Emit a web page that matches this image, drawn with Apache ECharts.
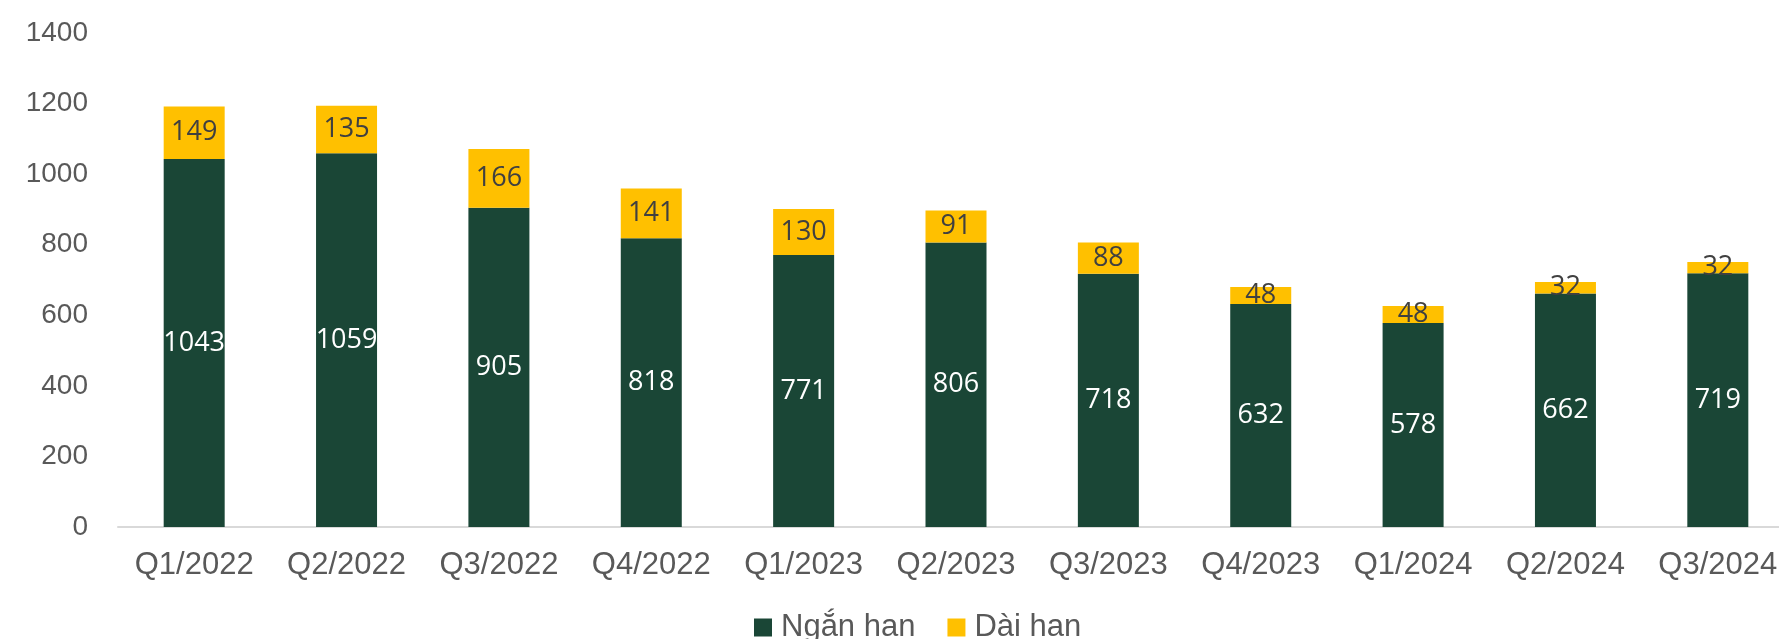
<!DOCTYPE html>
<html>
<head>
<meta charset="utf-8">
<script src="https://cdn.jsdelivr.net/npm/echarts@6/dist/echarts.min.js"></script>
<style>html,body{margin:0;padding:0;background:#fff;}#c{width:1779px;height:639px;}</style>
</head>
<body>
<div id="c"></div>
<script>
const categories = ['Q1/2022','Q2/2022','Q3/2022','Q4/2022','Q1/2023','Q2/2023','Q3/2023','Q4/2023','Q1/2024','Q2/2024','Q3/2024'];
const nganHan = [1043, 1059, 905, 818, 771, 806, 718, 632, 578, 662, 719];
const daiHan = [149, 135, 166, 141, 130, 91, 88, 48, 48, 32, 32];
const yTicks = [0, 200, 400, 600, 800, 1000, 1200, 1400];

const chart = echarts.init(document.getElementById('c'), null, {renderer: 'canvas'});
chart.setOption({
  animation: false,
  backgroundColor: '#ffffff',
  grid: {left: 118, width: 1676, top: 33, bottom: 112, containLabel: false, outerBoundsMode: 'none'},
  legend: {
    left: 749, top: 607,
    itemWidth: 18, itemHeight: 18, itemGap: 32,
    icon: 'rect',
    textStyle: {fontFamily: 'Liberation Sans', fontSize: 31, color: '#595959', padding: [0,0,0,4]},
    data: ['Ngắn han', 'Dài han']
  },
  xAxis: {
    type: 'category',
    data: categories,
    axisLine: {lineStyle: {color: '#D9D9D9', width: 2}},
    axisTick: {show: false},
    axisLabel: {fontFamily: 'Liberation Sans', fontSize: 31, color: '#595959', margin: 23, interval: 0, hideOverlap: false}
  },
  yAxis: {
    type: 'value',
    min: yTicks[0], max: yTicks[yTicks.length - 1], interval: 200,
    splitLine: {show: false},
    axisLine: {show: false},
    axisTick: {show: false},
    axisLabel: {fontFamily: 'Liberation Sans', fontSize: 28, color: '#595959', margin: 30,
      formatter: function (v) { return String(v); }}
  },
  series: [
    {
      name: 'Ngắn han', type: 'bar', stack: 'total', barWidth: 61,
      data: nganHan,
      itemStyle: {color: '#1A4636'},
      label: {show: true, position: 'inside', color: '#ffffff', fontFamily: 'Open Sans', fontSize: 27}
    },
    {
      name: 'Dài han', type: 'bar', stack: 'total', barWidth: 61,
      data: daiHan,
      itemStyle: {color: '#FFC000'},
      label: {show: true, position: 'inside', color: '#404040', fontFamily: 'Open Sans', fontSize: 27}
    }
  ]
});
</script>
</body>
</html>
